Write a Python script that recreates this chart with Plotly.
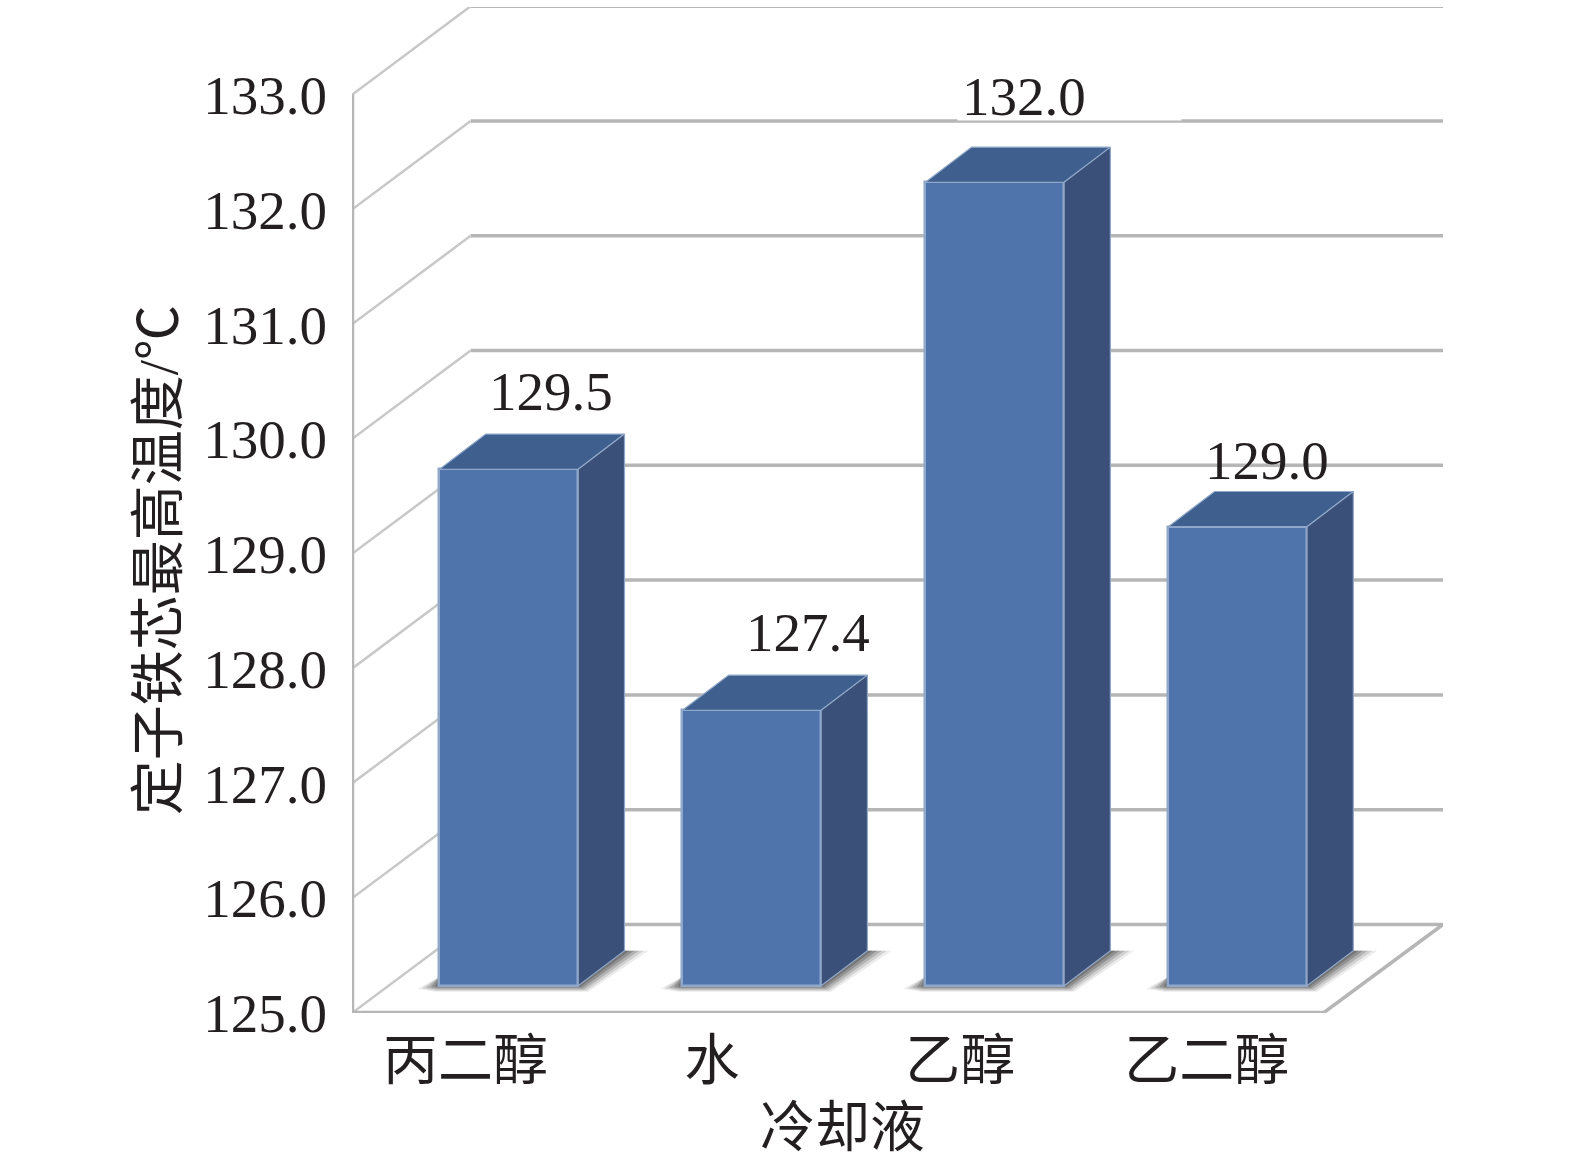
import plotly.graph_objects as go

categories = ["丙二醇", "水", "乙醇", "乙二醇"]
values = [129.5, 127.4, 132.0, 129.0]
y_ticks = [125, 126, 127, 128, 129, 130, 131, 132, 133]
label_text = ["129.5", "127.4", "132.0", "129.0"]

# projection geometry, in axis units
W, H = 1575, 1160
S = 1.0055
PX_L, PX_R, PX_T, PX_B = 350 * S, 1435 * S, 7 * S, 1007 * S
X_PX = 241.6 * S   # px per category
Y_PX = 114.1 * S   # px per degree
X0 = 506 * S       # px of first bar centre
xr = [(PX_L - X0) / X_PX, (PX_R - X0) / X_PX]
yr = [125, 125 + (PX_B - PX_T) / Y_PX]
WALL_DX, WALL_DY = 118 * S / X_PX, 88 * S / Y_PX
BAR_DX, BAR_DY = 46 * S / X_PX, 35 * S / Y_PX
FLOOR_DY = 27 * S / Y_PX
BAR_W = 138 * S / X_PX
FLOOR_R = (1316 * S - X0) / X_PX
FONT = "Liberation Serif, Noto Sans CJK SC"
FS = 55
INK = "#231f20"
GRID = "#b6b6b6"
FRONT, TOP, SIDE, EDGE = "#4f74ab", "#3f5f8f", "#3b5079", "#8fa7c8"

def line(x0, y0, x1, y1, color=GRID, width=3.5):
    return dict(type="line", xref="x", yref="y", x0=x0, y0=y0, x1=x1, y1=y1,
                layer="below", line=dict(color=color, width=width))

shapes = []
for t in y_ticks:
    shapes.append(line(xr[0] + WALL_DX, t + WALL_DY, xr[1], t + WALL_DY))
    shapes.append(line(xr[0], t, xr[0] + WALL_DX, t + WALL_DY, color="#c8c8c8", width=2.5))
# gap in the top of the 132 gridline, behind its label
shapes.append(dict(type="rect", xref="x", yref="y", layer="below", fillcolor="white", line_width=0,
                   x0=(952 * S - X0) / X_PX, x1=(1175 * S - X0) / X_PX, y0=132 + WALL_DY + 0.004, y1=132 + WALL_DY + 0.2))
# floor and front frame
shapes.append(line(xr[0], 125, FLOOR_R, 125, width=4.5))
shapes.append(line(FLOOR_R, 125, xr[1], 125 + WALL_DY))
shapes.append(line(xr[0], 125, xr[0], 133, width=4.5))

# soft floor shadows
for i in range(len(categories)):
    for grow, alpha in ((1.0, 0.10), (0.8, 0.16), (0.6, 0.22), (0.4, 0.30), (0.2, 0.36)):
        l, r = i - BAR_W / 2, i + BAR_W / 2
        b = 125 + FLOOR_DY
        ux, uy = 1 / X_PX, 1 / Y_PX
        pts = [(l - 22 * grow * ux, b - 3 * grow * uy), (l, b + 9 * uy), (r, b + 9 * uy),
               (r + BAR_DX, b + BAR_DY), (r + BAR_DX + 24 * grow * ux, b + BAR_DY),
               (r + 10 * grow * ux, b - 6 * grow * uy), (l - 4 * grow * ux, b - 6 * grow * uy)]
        path = "M " + " L ".join(f"{x} {y}" for x, y in pts) + " Z"
        shapes.append(dict(type="path", xref="x", yref="y", layer="below", path=path,
                           fillcolor=f"rgba(70,70,70,{alpha})", line_width=0))

fig = go.Figure()
fig.add_trace(go.Bar(
    x=list(range(len(values))), y=[v - 125 for v in values], base=125 + FLOOR_DY, width=BAR_W,
    marker=dict(color=FRONT, line=dict(color=EDGE, width=2.5)), showlegend=False, hoverinfo="skip",
))

top_x, top_y, side_x, side_y = [], [], [], []
for i, v in enumerate(values):
    l, r = i - BAR_W / 2, i + BAR_W / 2
    t, b = v + FLOOR_DY, 125 + FLOOR_DY
    top_x += [l, r, r + BAR_DX, l + BAR_DX, l, None]
    top_y += [t, t, t + BAR_DY, t + BAR_DY, t, None]
    side_x += [r, r + BAR_DX, r + BAR_DX, r, r, None]
    side_y += [t, t + BAR_DY, b + BAR_DY, b, t, None]
fig.add_trace(go.Scatter(x=top_x, y=top_y, mode="lines", fill="toself", fillcolor=TOP,
                         line=dict(color=EDGE, width=1.2), showlegend=False, hoverinfo="skip"))
fig.add_trace(go.Scatter(x=side_x, y=side_y, mode="lines", fill="toself", fillcolor=SIDE,
                         line=dict(color=EDGE, width=1.2), showlegend=False, hoverinfo="skip"))

label_dx = [42, 56, 29, 29]
label_dy = [77, 77, 85, 66]
anns = []
for i, v in enumerate(values):
    anns.append(dict(x=i, y=v + FLOOR_DY, xref="x", yref="y", text=label_text[i], showarrow=False,
                     xshift=label_dx[i] * S, yshift=label_dy[i] * S, xanchor="center", yanchor="middle",
                     font=dict(family=FONT, size=FS, color=INK)))
anns.append(dict(x=(838 * S - PX_L) / (PX_R - PX_L), y=(PX_B - 1121 * S) / (PX_B - PX_T), xref="paper", yref="paper",
                 text="冷却液", showarrow=False, xanchor="center", yanchor="middle",
                 font=dict(family=FONT, size=FS, color=INK)))
anns.append(dict(x=(157 * S - PX_L) / (PX_R - PX_L), y=(PX_B - 557 * S) / (PX_B - PX_T), xref="paper", yref="paper",
                 text="定子铁芯最高温度/℃", textangle=-90, showarrow=False, xanchor="center", yanchor="middle",
                 font=dict(family=FONT, size=FS, color=INK)))

label_px = [463, 708, 955, 1200]
fig.update_layout(
    width=W, height=H, autosize=False, paper_bgcolor="white", plot_bgcolor="rgba(0,0,0,0)",
    margin=dict(l=PX_L, r=W - PX_R, t=PX_T, b=H - PX_B, pad=0),
    bargap=0, shapes=shapes, annotations=anns, showlegend=False,
    xaxis=dict(range=xr, tickmode="array", tickvals=[(p * S - X0) / X_PX for p in label_px], ticktext=categories,
               showgrid=False, zeroline=False, showline=False, ticks="", ticklabelstandoff=10,
               tickfont=dict(family=FONT, size=FS, color=INK)),
    yaxis=dict(range=yr, tickmode="array", tickvals=y_ticks, tickformat=".1f",
               showgrid=False, zeroline=False, showline=False, ticks="", ticklabelstandoff=24,
               tickfont=dict(family=FONT, size=FS, color=INK)),
)
fig.write_html("out.html", config={"displayModeBar": False},
               post_script="document.body.style.margin='0';window.dispatchEvent(new Event('resize'));")
